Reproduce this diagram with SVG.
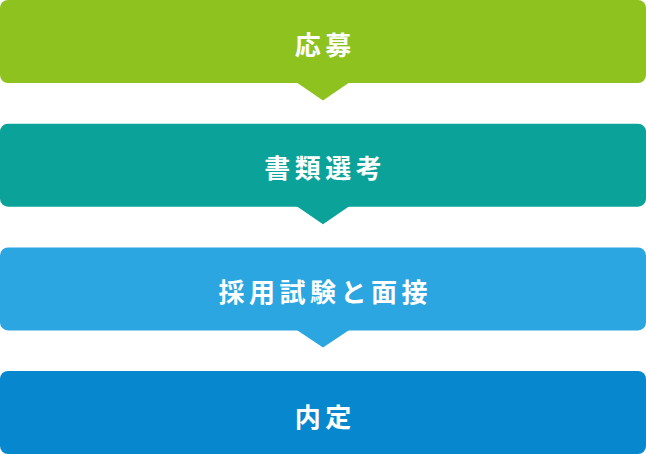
<svg xmlns="http://www.w3.org/2000/svg" width="646" height="454" viewBox="0 0 646 454">
<style>
.lbl{font-family:"Noto Sans CJK JP","Noto Sans CJK SC",sans-serif;font-size:26px;font-weight:bold;fill:#fff;text-anchor:middle;dominant-baseline:central;letter-spacing:4.5px}
</style>
<g id="step1">
<rect x="0" y="0" width="646" height="83" rx="8" fill="#8dc21f"/>
<path d="M296 82 L350 82 L323 100.5 Z" fill="#8dc21f"/>
<text class="lbl" x="325.25" y="43.5">応募</text>
</g>
<g id="step2">
<rect x="0" y="123.7" width="646" height="83" rx="8" fill="#0ba29a"/>
<path d="M296 205.7 L350 205.7 L323 224.2 Z" fill="#0ba29a"/>
<text class="lbl" x="325.25" y="166.5">書類選考</text>
</g>
<g id="step3">
<rect x="0" y="247.4" width="646" height="83" rx="8" fill="#2ba6e1"/>
<path d="M296 329.4 L350 329.4 L323 347.5 Z" fill="#2ba6e1"/>
<text class="lbl" x="325.25" y="290.5">採用試験と面接</text>
</g>
<g id="step4">
<rect x="0" y="371" width="646" height="83" rx="8" fill="#0788ce"/>
<text class="lbl" x="325.25" y="415">内定</text>
</g>
<g id="connectors"></g>
</svg>
